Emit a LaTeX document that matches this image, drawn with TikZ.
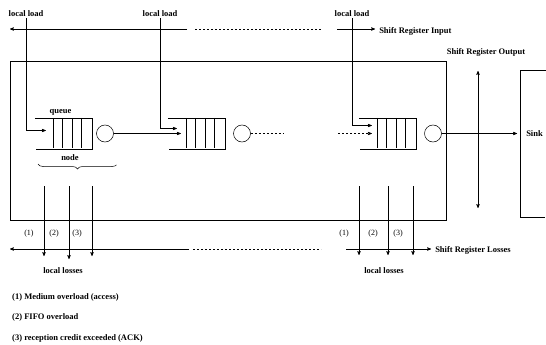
\documentclass[tikz,border=0pt]{standalone}
\usepackage{fontspec}
\setmainfont{Liberation Serif}
\usetikzlibrary{positioning, arrows, decorations.pathreplacing}

\begin{document}
\begin{tikzpicture}[x=1pt,y=-1pt,>=stealth',shorten >=1pt,line width=0.5pt,
    font=\fontsize{8.5}{10}\selectfont\bfseries,
    lbl/.style={inner sep=1pt},
    num/.style={inner sep=1pt,font=\fontsize{8}{10}\selectfont},
    fifo/.style={minimum width=57pt,minimum height=31pt,inner sep=0pt},
    server/.style={circle,draw,minimum size=17pt,inner sep=0pt},
    dots/.style={dash pattern=on 2pt off 2pt}]
  \useasboundingbox (0,0) rectangle (546,345);

  \node[draw,minimum width=436pt,minimum height=159pt,inner sep=0pt] (ring) at (228,140.5) {};

  \node[fifo] (q1) at (63.5,133.5) {};
  \node[server,right=4pt of q1] (s1) {};
  \node[fifo] (q2) at (196.5,133.5) {};
  \node[server,right=8pt of q2] (s2) {};
  \node[fifo] (q3) at (387.5,133.5) {};
  \node[server,right=8pt of q3] (s3) {};
  \foreach \q in {q1,q2,q3} {
    \draw (\q.north west) -- (\q.north east) -- (\q.south east) -- (\q.south west);
    \foreach \d in {18,27.5,37,46.5}
      \draw ([xshift=\d pt]\q.north west) -- ([xshift=\d pt]\q.south west);
  }
  \node[lbl,above=1pt of q1,xshift=-3pt] (qlab) {queue};
  \node[lbl] (nlab) at (70,158) {node};
  \draw[decorate,decoration={brace,mirror,amplitude=5pt}] (38,164) -- (117,164);

  \node[lbl] (ll1) at (26,14) {local load};
  \node[lbl] (ll2) at (160,14) {local load};
  \node[lbl] (ll3) at (352,14) {local load};
  \draw[->] (ll1.south) |- ([xshift=12pt,yshift=3pt]q1.west);
  \draw[->] (ll2.south) |- ([xshift=10pt,yshift=5pt]q2.west);
  \draw[->] (ll3.south) |- ([xshift=14pt,yshift=8pt]q3.west);

  \draw[->] (s1) -- ([xshift=14pt]q2.west);
  \coordinate (d1) at (284,133.5);
  \coordinate (d2) at (338,133.5);
  \draw[dots] (s2) -- (d1);
  \draw[dots,->] (d2) -- ([xshift=14pt]q3.west);

  \draw (546,70) -- (520,70) -- (520,217) -- (546,217);
  \node[lbl,anchor=west] (sink) at (525,133.5) {Sink};
  \draw[->] (s3) -- ([xshift=-7pt]sink.west);

  \node[lbl] (outlab) at (486,52) {Shift Register Output};
  \coordinate (o1) at (478,71);
  \coordinate (o2) at (478,209);
  \draw[<->] (o1) -- (o2);

  \coordinate (t1) at (9,29);
  \coordinate (t2) at (187,29);
  \coordinate (t3) at (195,29);
  \coordinate (t4) at (322,29);
  \coordinate (t5) at (337,29);
  \node[lbl,anchor=west] (inlab) at (378,31.5) {Shift Register Input};
  \draw[->] (t2) -- (t1);
  \draw[dots] (t3) -- (t4);
  \draw[->,shorten >=3pt] (t5) -- (t5 -| inlab.west);

  \foreach \x/\n/\e in {44/1/257,69/2/260,92/3/257,359/1/256,388/2/256,413/3/256} {
    \coordinate (l\x) at (\x,186);
    \coordinate (e\x) at (\x,\e);
    \draw[->] (l\x) -- (e\x);
    \node[num] (c\x) at (\x-15,234) {(\n)};
  }
  \coordinate (b1) at (9,249);
  \coordinate (b2) at (189,249);
  \coordinate (b3) at (193,249);
  \coordinate (b4) at (322,249);
  \coordinate (b5) at (346,249);
  \node[lbl,anchor=west] (losslab) at (434,250.5) {Shift Register Losses};
  \draw[->] (b2) -- (b1);
  \draw[dots] (b3) -- (b4);
  \draw[->,shorten >=3pt] (b5) -- (b5 -| losslab.west);
  \node[lbl] (loss1) at (63,271) {local losses};
  \node[lbl] (loss2) at (384,271) {local losses};

  \node[lbl,anchor=west] (leg1) at (11,297) {(1) Medium overload (access)};
  \node[lbl,anchor=west] (leg2) at (11,317) {(2) FIFO overload};
  \node[lbl,anchor=west] (leg3) at (11,338) {(3) reception credit exceeded (ACK)};
\end{tikzpicture}
\end{document}
